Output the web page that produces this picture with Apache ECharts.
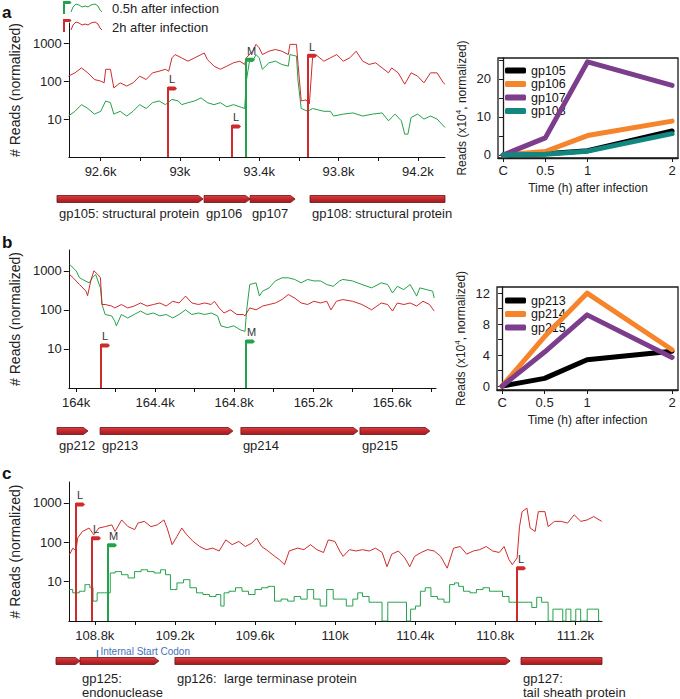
<!DOCTYPE html>
<html><head><meta charset="utf-8">
<script src="https://cdn.jsdelivr.net/npm/echarts@6/dist/echarts.min.js"></script>
<style>html,body{margin:0;padding:0;background:#fff}#c{width:680px;height:699px}</style>
</head><body><div id="c"></div>
<script>
const FONT = "'Liberation Sans', Arial, Helvetica, sans-serif";

// ---------- Panel a : reads (bp position, normalized reads) ----------
const redA = [[92438,135],[92471,165],[92504,223],[92536,165],[92569,110],[92601,100],[92618,90],[92626,205],[92650,205],[92667,66],[92699,90],[92732,74],[92764,90],[92797,135],[92830,110],[92862,165],[92895,182],[92927,205],[92944,182],[92960,410],[92976,500],[93009,410],[93041,335],[93074,410],[93107,500],[93123,550],[93139,370],[93172,248],[93204,205],[93237,248],[93270,303],[93302,335],[93327,275],[93335,410],[93367,615],[93384,930],[93400,755],[93416,500],[93449,615],[93482,680],[93514,615],[93547,500],[93555,930],[93588,930],[93596,275],[93612,30],[93636,32],[93653,25],[93669,410],[93685,500],[93726,335],[93759,410],[93791,500],[93824,335],[93857,410],[93889,615],[93922,335],[93954,275],[93987,303],[94020,223],[94052,165],[94068,223],[94101,165],[94134,83],[94166,165],[94199,135],[94231,90],[94264,165],[94297,165],[94329,90],[94337,83]];
const greenA = [[92438,12],[92471,16],[92504,24],[92536,19],[92569,13.5],[92601,16],[92626,30],[92650,27],[92667,13.5],[92699,16],[92732,12],[92764,16],[92797,24],[92830,19],[92862,27],[92895,30],[92927,24],[92960,33],[92992,30],[93009,24],[93041,27],[93074,30],[93107,36],[93139,27],[93172,24],[93204,27],[93237,21],[93270,24],[93327,19],[93335,100],[93351,335],[93367,335],[93384,500],[93400,410],[93416,205],[93449,303],[93482,335],[93514,275],[93547,248],[93555,500],[93588,455],[93596,100],[93612,19],[93645,16],[93669,19],[93726,16],[93759,16],[93775,12],[93824,13.5],[93873,14.5],[93922,12],[93971,13.5],[94020,14.5],[94052,9],[94085,13.5],[94117,9],[94134,4],[94150,4],[94166,11],[94199,13.5],[94231,10],[94264,12],[94297,10],[94337,6]];
const redFlagsA = [[92939,70],[93262,7],[93648,510]];
const redFlagLettersA = ['L','L','L'];
const greenFlagsA = [[93335,400]];
const greenFlagLettersA = ['M'];
const geneStartA = [92440,93159,93384,93677];
const geneEndA = [93154,93384,93604,94337];
const geneNameA = ['gp105: structural protein','gp106','gp107','gp108: structural protein'];
const xTicksA = [92600,92800,93000,93200,93400,93600,93800,94000,94200];
const xLabelsA = [92600,93000,93400,93800,94200];

// ---------- Panel b ----------
const redB = [[163968,800],[163985,660],[164017,445],[164050,300],[164058,230],[164074,550],[164090,1000],[164110,800],[164123,660],[164131,137],[164147,137],[164180,125],[164196,112],[164229,137],[164261,112],[164294,125],[164326,150],[164359,125],[164391,137],[164424,150],[164456,125],[164489,166],[164521,150],[164554,225],[164586,150],[164619,137],[164651,150],[164684,137],[164700,166],[164724,112],[164749,83],[164781,100],[164814,76],[164846,76],[164855,70],[164879,112],[164911,100],[164944,125],[164977,137],[165009,150],[165042,183],[165074,247],[165107,200],[165139,150],[165172,137],[165204,166],[165237,150],[165269,166],[165290,100],[165318,166],[165350,183],[165399,166],[165447,137],[165496,100],[165545,150],[165577,137],[165602,93],[165626,150],[165659,137],[165691,150],[165724,125],[165756,166],[165789,137],[165813,93]];
const greenB = [[163968,1450],[164001,980],[164017,660],[164033,600],[164066,490],[164082,660],[164099,800],[164123,365],[164131,137],[164147,76],[164180,70],[164196,51],[164204,39],[164229,76],[164261,62],[164294,76],[164326,93],[164359,76],[164391,83],[164424,70],[164456,76],[164489,62],[164521,76],[164554,100],[164586,76],[164619,83],[164651,76],[164684,83],[164716,70],[164733,39],[164765,35],[164798,39],[164830,31],[164855,28],[164863,93],[164879,445],[164911,490],[164928,225],[164944,300],[164977,365],[165009,550],[165042,660],[165074,660],[165107,600],[165139,490],[165172,600],[165204,550],[165237,550],[165269,445],[165302,400],[165334,550],[165350,600],[165399,550],[165447,445],[165496,365],[165545,490],[165577,445],[165602,270],[165626,400],[165659,330],[165691,445],[165724,225],[165740,365],[165773,330],[165805,300],[165813,200]];
const redFlagsB = [[164126,13.4]];
const redFlagLettersB = ['L'];
const greenFlagsB = [[164858,17]];
const greenFlagLettersB = ['M'];
const geneStartB = [163973,164183,164870,165451];
const geneEndB = [164124,164831,165441,165792];
const geneNameB = ['gp212','gp213','gp214','gp215'];
const xTicksB = [164000,164200,164400,164600,164800,165000,165200,165400,165600,165800];
const xLabelsB = [164000,164400,164800,165200,165600];

// ---------- Panel c ----------
const redC = [[108673,48],[108690,71],[108706,60],[108714,128],[108738,188],[108771,230],[108795,155],[108820,230],[108852,250],[108885,277],[108901,188],[108934,370],[108966,250],[108999,210],[109015,307],[109047,340],[109080,250],[109112,277],[109145,370],[109161,230],[109186,87],[109210,140],[109234,230],[109259,155],[109291,105],[109324,78],[109356,65],[109389,71],[109421,60],[109454,115],[109486,87],[109519,105],[109551,78],[109584,95],[109608,128],[109633,78],[109665,60],[109698,44],[109722,36],[109747,27],[109771,60],[109812,71],[109844,65],[109877,87],[109909,65],[109942,55],[109966,115],[109999,105],[110023,60],[110040,44],[110072,65],[110105,60],[110137,65],[110170,60],[110202,71],[110235,55],[110259,24],[110283,50],[110316,60],[110348,40],[110373,24],[110397,44],[110430,55],[110462,65],[110495,60],[110527,44],[110560,22],[110592,71],[110625,78],[110657,50],[110690,60],[110722,65],[110755,78],[110787,60],[110820,55],[110844,78],[110869,36],[110885,27],[110909,40],[110921,250],[110934,600],[110958,740],[110974,230],[110999,188],[111015,600],[111048,600],[111064,250],[111096,340],[111129,340],[111161,307],[111194,500],[111227,340],[111259,370],[111292,450],[111308,400],[111332,340]];
const greenC = [[108673,6.3],[108706,5.2],[108738,5.7],[108763,8.4],[108787,7],[108795,3.2],[108828,5.2],[108869,5.2],[108885,16.6],[108917,18],[108950,15],[108982,12.4],[109015,18],[109047,20],[109080,18],[109112,16.6],[109145,20],[109161,15],[109194,6.3],[109226,9.3],[109259,11.2],[109291,7],[109324,5.2],[109356,4.7],[109389,4.2],[109421,4.7],[109437,2.4],[109454,5.2],[109486,5.7],[109519,7],[109551,5.7],[109584,4.7],[109616,6.3],[109649,7],[109681,7.6],[109714,3.2],[109747,3.6],[109779,3.2],[109812,4.2],[109844,3.6],[109877,6.3],[109909,3.6],[109942,2.4],[109974,6.3],[110007,3.6],[110040,3.6],[110072,2.4],[110105,3.6],[110121,5.2],[110153,4.2],[110186,3],[110218,3],[110251,1],[110275,3],[110316,3],[110348,3],[110365,1],[110389,2],[110414,2.4],[110438,5.7],[110462,7],[110495,4.2],[110527,3.6],[110560,3],[110584,8.4],[110609,9.3],[110625,7.6],[110657,5.7],[110690,5.2],[110722,6.3],[110755,7],[110787,5.7],[110820,5.7],[110852,4.2],[110885,3],[110934,3],[110966,3],[110999,2.2],[111015,4],[111048,3],[111080,1],[111096,2],[111129,2],[111145,1],[111161,2],[111194,1],[111210,2],[111243,1],[111275,2],[111308,2],[111324,1]];
const redFlagsC = [[108704,1000],[108787,138],[110909,24]];
const redFlagLettersC = ['L','L','L'];
const greenFlagsC = [[108868,92]];
const greenFlagLettersC = ['M'];
const geneStartC = [108670,108787,109250,110938];
const geneEndC = [108787,109172,110885,111333];
const geneNameC = ['','gp125:\nendonuclease','gp126:  large terminase protein','gp127:\ntail sheath protein'];
const internalStartC = [108868];
const internalStartLabel = 'Internal Start Codon';
const xTicksC = [108800,109000,109200,109400,109600,109800,110000,110200,110400,110600,110800,111000,111200];
const xLabelsC = [108800,109200,109600,110000,110400,110800,111200];
const yLogLabels = [10, 100, 1000];

// ---------- Time-course (x10^4 reads) ----------
const timePoints = [0, 0.5, 1, 2];
const timeLabels = ['C', '0.5', '1', '2'];
const gp105 = [0, 0.3, 1.1, 6.3];
const gp106 = [0, 0.9, 5.1, 8.9];
const gp107 = [0, 4.5, 24.5, 18.3];
const gp108 = [0, 0.2, 1.0, 5.6];
const gp213 = [0, 1.0, 3.4, 4.5];
const gp214 = [0, 6.4, 12.0, 4.7];
const gp215 = [0, 4.4, 9.2, 3.7];
const yTicksRA = [0,5,10,15,20,25];
const yLabelsRA = [0,10,20];
const yTicksRB = [0,2,4,6,8,10,12];
const yLabelsRB = [0,4,8,12];

const RED = '#cf2b2b', GREEN = '#23a24a';
const ORANGE = '#f5842a', PURPLE = '#7c3d8c', TEAL = '#12877f';

const grids = [], xAxes = [], yAxes = [], series = [];

function kfmt(v){ return (Math.round(v/100)/10) + 'k'; }
function logLabel(v){
  const hit = yLogLabels.find(t => Math.abs(t - v) / t < 0.01);
  return hit ? String(hit) : '';
}

function addMain(g, xmin, xmax, ticks, labels) {
  grids.push(Object.assign({containLabel:false}, g));
  const gi = grids.length - 1;
  xAxes.push({gridIndex: gi, type:'value', min:xmin, max:xmax,
    axisLine:{show:true, onZero:false, lineStyle:{color:'#111', width:1}},
    axisTick:{show:true, length:4, customValues:ticks, lineStyle:{color:'#111'}},
    axisLabel:{customValues:labels, formatter:kfmt, color:'#222', fontSize:13, fontFamily:FONT, margin:8},
    splitLine:{show:false}});
  yAxes.push({gridIndex: gi, type:'log', logBase:10, min:1, max:3400,
    name:'# Reads (normalized)', nameLocation:'middle', nameGap:41,
    nameTextStyle:{fontSize:14, fontFamily:FONT, color:'#222'},
    axisLine:{show:true, lineStyle:{color:'#111', width:1}},
    axisTick:{show:true, length:5, lineStyle:{color:'#111'}},
    axisLabel:{formatter:logLabel, showMaxLabel:false, showMinLabel:false, color:'#222', fontSize:13, fontFamily:FONT, margin:7},
    splitLine:{show:false}, minorTick:{show:false}});
  return gi;
}
function addGeneGrid(g, xmin, xmax) {
  grids.push(g);
  const gi = grids.length - 1;
  xAxes.push({gridIndex:gi, type:'value', min:xmin, max:xmax, show:false});
  yAxes.push({gridIndex:gi, type:'value', min:0, max:1, show:false});
  return gi;
}
function addRight(g, yMin, yMax, yTicks, yLabels) {
  grids.push(Object.assign({show:true, borderColor:'#1a1a1a', borderWidth:1.3, backgroundColor:'transparent'}, g));
  const gi = grids.length - 1;
  xAxes.push({gridIndex:gi, type:'value', min:-0.06, max:2.07,
    name:'Time (h) after infection', nameLocation:'middle', nameGap:24,
    nameTextStyle:{fontSize:12, fontFamily:FONT, color:'#222'},
    axisLine:{show:true, onZero:false, lineStyle:{color:'#1a1a1a', width:1.3}},
    axisTick:{show:true, length:4, customValues:timePoints, lineStyle:{color:'#1a1a1a'}},
    axisLabel:{customValues:timePoints, formatter:v => timeLabels[timePoints.indexOf(v)] ?? String(v), fontSize:13, fontFamily:FONT, color:'#222', margin:6},
    splitLine:{show:false}});
  yAxes.push({gridIndex:gi, type:'value', min:yMin, max:yMax,
    name:'Reads (x10{sup|4}, normalized)', nameLocation:'middle', nameGap:29,
    nameTextStyle:{fontSize:12, fontFamily:FONT, color:'#222', rich:{sup:{fontSize:8, verticalAlign:'top', padding:[0,0,7,0], fontFamily:FONT, color:'#222'}}},
    axisLine:{show:true, lineStyle:{color:'#1a1a1a', width:1.3}},
    axisTick:{show:true, length:4, customValues:yTicks, lineStyle:{color:'#1a1a1a'}},
    axisLabel:{customValues:yLabels, fontSize:13, fontFamily:FONT, color:'#222', margin:7},
    splitLine:{show:false}});
  return gi;
}

function lineSeries(gi, name, data, color, z, step) {
  return {type:'line', name, xAxisIndex:gi, yAxisIndex:gi, data, step: step || false, showSymbol:false, silent:true,
    lineStyle:{color, width:1}, itemStyle:{color}, z, animation:false};
}
function flagSeries(gi, data, letters, color) {
  return {type:'custom', xAxisIndex:gi, yAxisIndex:gi, data, z:6, silent:true, clip:false,
    renderItem(params, api) {
      const top = api.coord([api.value(0), api.value(1)]);
      const bot = api.coord([api.value(0), 1]);
      const x = Math.round(top[0]);
      const y = top[1];
      return {type:'group', children:[
        {type:'line', shape:{x1:x, y1:bot[1], x2:x, y2:y}, style:{stroke:color, lineWidth:2}},
        {type:'polygon', shape:{points:[[x,y-0.5],[x+7,y-0.5],[x+9,y+1.5],[x+7,y+3.5],[x,y+3.5]]}, style:{fill:color}},
        {type:'text', style:{text:letters[params.dataIndex], x:x+1, y:y-2, fill:'#333', font:'11px ' + FONT, align:'left', verticalAlign:'bottom'}}
      ]};
    }};
}
function geneSeries(gi, starts, ends, names, xmax, labelGap) {
  const data = starts.map((s, i) => [s, ends[i]]);
  return {type:'custom', xAxisIndex:gi, yAxisIndex:gi, data, silent:true, clip:false, z:3,
    renderItem(params, api) {
      const s = api.coord([api.value(0), 0.5]);
      const e = api.coord([api.value(1), 0.5]);
      const cy = s[1], h = 3.5;
      const tip = api.value(1) < xmax - 2 ? 4.5 : 0;
      const pts = [[s[0],cy-h],[e[0]-tip,cy-h],[e[0],cy],[e[0]-tip,cy+h],[s[0],cy+h]];
      const children = [{type:'polygon', shape:{points:pts},
        style:{fill:{type:'linear', x:0, y:0, x2:0, y2:1, colorStops:[{offset:0,color:'#d8403f'},{offset:0.5,color:'#c3262b'},{offset:1,color:'#9c1c20'}]},
               stroke:'#6c1215', lineWidth:0.8}}];
      const name = names[params.dataIndex];
      if (name) children.push({type:'text', style:{text:name, x:s[0]+2, y:cy+labelGap, fill:'#1e1e1e', font:'13px ' + FONT, lineHeight:14, align:'left', verticalAlign:'top'}});
      return {type:'group', children};
    }};
}
function rightLine(gi, name, vals, color) {
  return {type:'line', name, xAxisIndex:gi, yAxisIndex:gi, data: timePoints.map((t, i) => [t, vals[i]]),
    showSymbol:false, silent:true, lineStyle:{color, width:5, cap:'round', join:'round'}, itemStyle:{color}, z:4};
}

// ---- Panel a ----
const aMin = 92440, aMax = 94337;
const gA = addMain({left:57, top:23, width:388, height:134}, aMin, aMax, xTicksA, xLabelsA);
const gAg = addGeneGrid({left:57, top:189, width:388, height:20}, aMin, aMax);
const gAr = addRight({left:498, top:58, width:180, height:100}, -0.8, 25.5, yTicksRA, yLabelsRA);
series.push(lineSeries(gA, '0.5h after infection', greenA, GREEN, 2));
series.push(lineSeries(gA, '2h after infection', redA, RED, 3));
series.push(flagSeries(gA, redFlagsA, redFlagLettersA, RED));
series.push(flagSeries(gA, greenFlagsA, greenFlagLettersA, GREEN));
series.push(geneSeries(gAg, geneStartA, geneEndA, geneNameA, aMax, 7.5));
series.push(rightLine(gAr, 'gp105', gp105, '#000000'));
series.push(rightLine(gAr, 'gp106', gp106, ORANGE));
series.push(rightLine(gAr, 'gp107', gp107, PURPLE));
series.push(rightLine(gAr, 'gp108', gp108, TEAL));

// ---- Panel b ----
const bMin = 163963, bMax = 165822;
const gB = addMain({left:55, top:250, width:381, height:138}, bMin, bMax, xTicksB, xLabelsB);
const gBg = addGeneGrid({left:55, top:421, width:381, height:20}, bMin, bMax);
const gBr = addRight({left:497, top:287, width:181, height:103}, -0.5, 12.8, yTicksRB, yLabelsRB);
series.push(lineSeries(gB, '0.5h after infection', greenB, GREEN, 2));
series.push(lineSeries(gB, '2h after infection', redB, RED, 3));
series.push(flagSeries(gB, redFlagsB, redFlagLettersB, RED));
series.push(flagSeries(gB, greenFlagsB, greenFlagLettersB, GREEN));
series.push(geneSeries(gBg, geneStartB, geneEndB, geneNameB, bMax, 7.5));
series.push(rightLine(gBr, 'gp213', gp213, '#000000'));
series.push(rightLine(gBr, 'gp214', gp214, ORANGE));
series.push(rightLine(gBr, 'gp215', gp215, PURPLE));

// ---- Panel c ----
const cMin = 108670, cMax = 111333;
const gC = addMain({left:56, top:482, width:546, height:139}, cMin, cMax, xTicksC, xLabelsC);
const gCg = addGeneGrid({left:56, top:651, width:546, height:20}, cMin, cMax);
series.push(lineSeries(gC, '0.5h after infection', greenC, GREEN, 2, 'middle'));
series.push(lineSeries(gC, '2h after infection', redC, RED, 3));
series.push(flagSeries(gC, redFlagsC, redFlagLettersC, RED));
series.push(flagSeries(gC, greenFlagsC, greenFlagLettersC, GREEN));
series.push(geneSeries(gCg, geneStartC, geneEndC, geneNameC, cMax, 10.5));
series.push({type:'custom', xAxisIndex:gCg, yAxisIndex:gCg, data:internalStartC.map(v => [v]), silent:true, clip:false, z:5,
  renderItem(params, api) {
    const p = api.coord([api.value(0), 0.5]);
    const x = Math.round(p[0]) + 0.5;
    return {type:'group', children:[
      {type:'line', shape:{x1:x, y1:p[1]-11, x2:x, y2:p[1]-4}, style:{stroke:'#3f73b8', lineWidth:1.4}},
      {type:'text', style:{text:internalStartLabel, x:x+3, y:p[1]-10, fill:'#3f73b8', font:'10px ' + FONT, align:'left', verticalAlign:'middle'}}
    ]};
  }});

// legend icon shapes (flag + wiggle) for the read-coverage tracks
function legendIcon(y0, color) {
  return [
    {type:'line', shape:{x1:64, y1:y0, x2:64, y2:y0+13}, style:{stroke:color, lineWidth:2}},
    {type:'polygon', shape:{points:[[64,y0],[70,y0],[71.5,y0+1.5],[70,y0+3],[64,y0+3]]}, style:{fill:color}},
    {type:'polyline', shape:{points:[[71,y0+11],[73,y0+6],[76,y0+3],[79,y0+4],[82,y0+6],[85,y0+5],[88,y0+6],[91,y0+4],[95,y0+3],[98,y0+5],[100,y0+9],[102,y0+11]]}, style:{stroke:color, lineWidth:1, fill:null}}
  ];
}

const option = {
  animation:false,
  backgroundColor:'#fff',
  textStyle:{fontFamily:FONT},
  grid:grids, xAxis:xAxes, yAxis:yAxes, series,
  legend:[
    {data:['gp105','gp106','gp107','gp108'], orient:'vertical', left:500, top:59, itemWidth:21, itemHeight:6, itemGap:0.5,
     icon:'roundRect', textStyle:{fontSize:12.5, lineHeight:12.3, fontFamily:FONT, color:'#111'}, selectedMode:false},
    {data:['gp213','gp214','gp215'], orient:'vertical', left:500, top:289, itemWidth:21, itemHeight:6, itemGap:0.5,
     icon:'roundRect', textStyle:{fontSize:12.5, lineHeight:12.6, fontFamily:FONT, color:'#111'}, selectedMode:false}
  ],
  graphic:[
    ...legendIcon(1, GREEN),
    ...legendIcon(19, RED),
    {type:'text', style:{text:'0.5h after infection', x:112, y:8, fill:'#222', font:'13px ' + FONT, verticalAlign:'middle'}},
    {type:'text', style:{text:'2h after infection', x:112, y:27, fill:'#222', font:'13px ' + FONT, verticalAlign:'middle'}},
    {type:'text', style:{text:'a', x:2, y:12, fill:'#111', font:'bold 17px ' + FONT, verticalAlign:'middle'}},
    {type:'text', style:{text:'b', x:2, y:242, fill:'#111', font:'bold 17px ' + FONT, verticalAlign:'middle'}},
    {type:'text', style:{text:'c', x:2, y:473, fill:'#111', font:'bold 17px ' + FONT, verticalAlign:'middle'}}
  ]
};

const chart = echarts.init(document.getElementById('c'), null, {renderer:'svg', width:680, height:699});
chart.setOption(option);
</script>
</body></html>
